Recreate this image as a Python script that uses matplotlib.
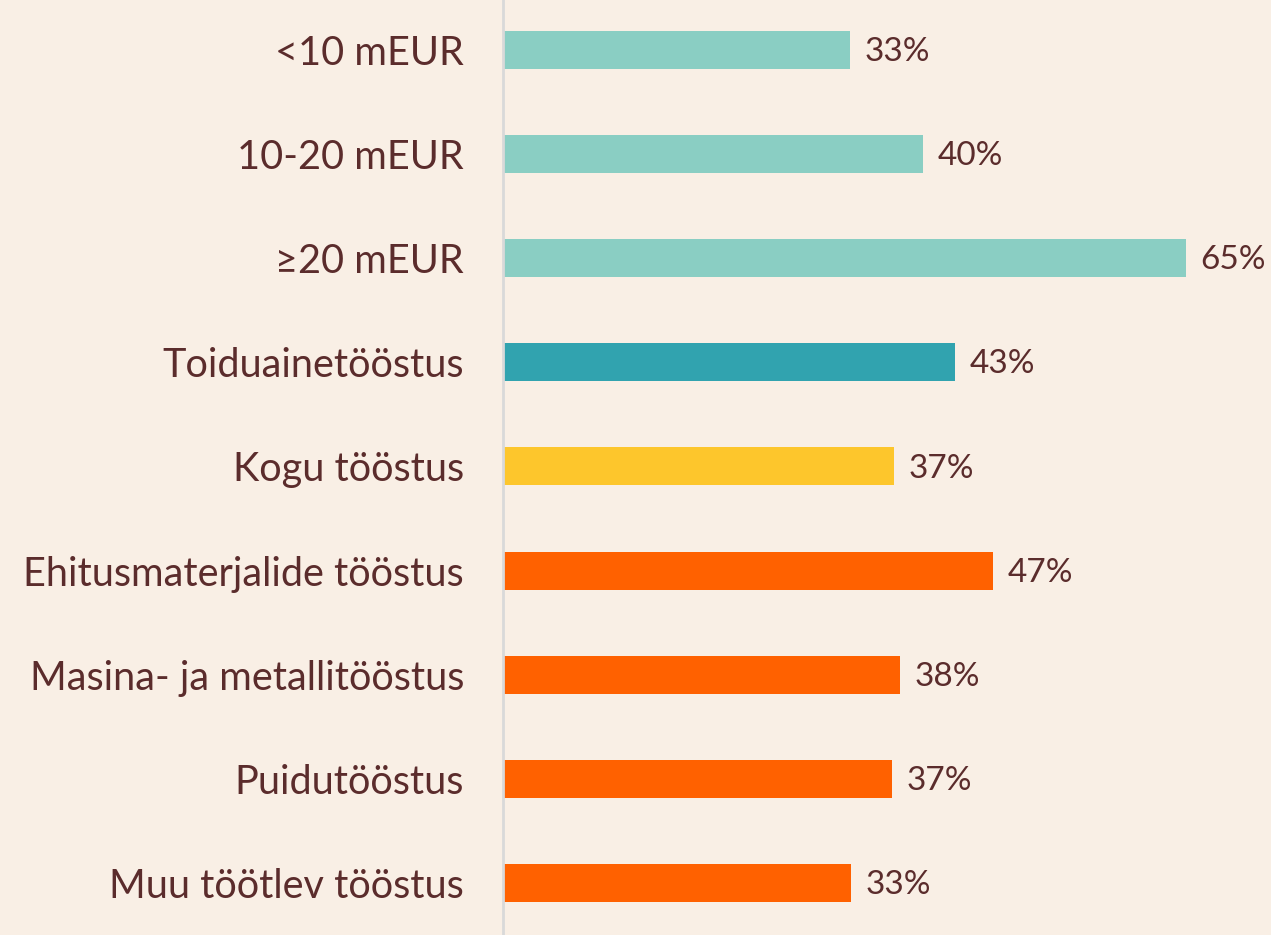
import matplotlib.pyplot as plt

categories = ['<10 mEUR', '10-20 mEUR', '≥20 mEUR', 'Toiduainetööstus', 'Kogu tööstus',
              'Ehitusmaterjalide tööstus', 'Masina- ja metallitööstus', 'Puidutööstus',
              'Muu töötlev tööstus']
values = [33.0, 40.0, 65.0, 43.0, 37.2, 46.6, 37.8, 37.0, 33.1]
labels = ['33%', '40%', '65%', '43%', '37%', '47%', '38%', '37%', '33%']
colors = ['#8ACEC3', '#8ACEC3', '#8ACEC3', '#31A3AF', '#FDC62C',
          '#FF6100', '#FF6100', '#FF6100', '#FF6100']

bg = '#F9EFE5'
txt = '#5B2C2C'
plt.rcParams['font.family'] = ['Lato', 'DejaVu Sans']

fig = plt.figure(figsize=(12.71, 9.35), dpi=100, facecolor=bg)
ax = fig.add_axes([503 / 1271, 0, 1 - 503 / 1271, 1])
ax.set_facecolor(bg)

y = list(range(len(categories)))
ax.barh(y, values, height=0.365, color=colors)
for yi, v, lab in zip(y, values, labels):
    ax.text(v + 1.4, yi + 0.02, lab, va='center', ha='left', fontsize=24, color=txt)

ax.set_xlim(0, 73.1)
ax.set_ylim(len(categories) - 0.5, -0.48)
ax.set_yticks(y)
ax.set_yticklabels(categories, fontsize=28.5, color=txt)
ax.tick_params(axis='y', length=0, pad=28)
ax.set_xticks([])
for s in ['top', 'right', 'bottom']:
    ax.spines[s].set_visible(False)
ax.spines['left'].set_color('#D9D9D9')
ax.spines['left'].set_linewidth(2)

fig.savefig('out.png', dpi=100, facecolor=bg)
